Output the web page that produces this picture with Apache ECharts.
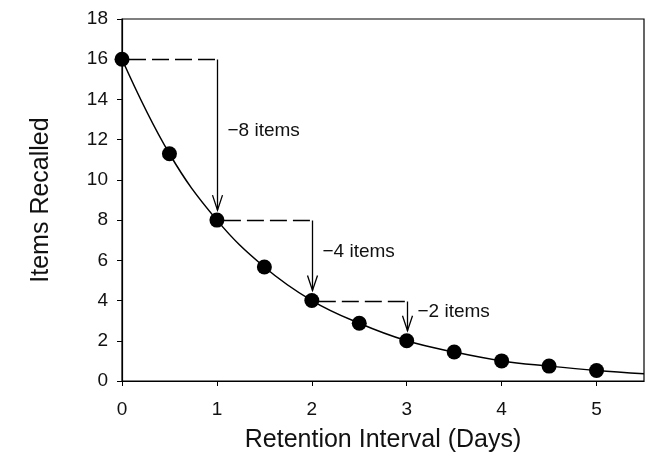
<!DOCTYPE html>
<html>
<head>
<meta charset="utf-8">
<script src="https://cdn.jsdelivr.net/npm/echarts@6/dist/echarts.min.js"></script>
<style>
  html, body { margin: 0; padding: 0; background: #fff; }
  #chart { width: 649px; height: 462px; }
</style>
</head>
<body>
<div id="chart"></div>
<script>
// Retention interval (days) and mean items recalled
const days = [0, 0.5, 1, 1.5, 2, 2.5, 3, 3.5, 4, 4.5, 5];
const recalled = [16, 11.3, 8, 5.67, 4, 2.87, 2, 1.44, 1.0, 0.74, 0.52];

// Fitted forgetting curve continues to the edge of the axis
const curveEnd = [5.5, 0.36];

// Successive halvings: [fromDay, fromItems, toDay, toItems]
const drops = [
  [0, 16, 1, 8],
  [1, 8, 2, 4],
  [2, 4, 3, 2]
];

const xTicks = [0, 1, 2, 3, 4, 5];
const yTicks = [0, 2, 4, 6, 8, 10, 12, 14, 16, 18];

const curve = days.map((d, i) => [d, recalled[i]]).concat([curveEnd]);
const points = days.map((d, i) => [d, recalled[i]]);

const FONT = 'Liberation Sans, Arial, Helvetica, sans-serif';

function renderDrop(params, api) {
  const [x0, y0, x1, y1] = [api.value(0), api.value(1), api.value(2), api.value(3)];
  const pStart = api.coord([x0, y0]);
  const pCorner = api.coord([x1, y0]);
  const pTarget = api.coord([x1, y1]);
  const tipY = pTarget[1] - 10;
  const head = 15, halfW = 5;
  const cx = Math.round(pCorner[0]) + 0.5;
  const cy = Math.round(pCorner[1]) + 0.5;
  const stroke = { stroke: '#000', lineWidth: 1.3, fill: null };
  const midY = (pCorner[1] + tipY) / 2 - 4;
  return {
    type: 'group',
    children: [
      {
        type: 'line',
        shape: { x1: pStart[0] + 7, y1: cy, x2: cx, y2: cy },
        style: Object.assign({ lineDash: [17, 6] }, stroke)
      },
      {
        type: 'line',
        shape: { x1: cx, y1: cy, x2: cx, y2: tipY },
        style: stroke
      },
      {
        type: 'polyline',
        shape: { points: [[cx - halfW, tipY - head], [cx, tipY], [cx + halfW, tipY - head]] },
        style: stroke
      },
      {
        type: 'text',
        x: cx + 10,
        y: midY,
        style: {
          text: '\u2212' + (y0 - y1) + ' items',
          fill: '#111',
          font: '19px ' + FONT,
          textAlign: 'left',
          textVerticalAlign: 'middle'
        }
      }
    ]
  };
}

const chart = echarts.init(document.getElementById('chart'), null, { renderer: 'canvas' });
chart.setOption({
  animation: false,
  backgroundColor: '#fff',
  grid: {
    left: 122, right: 5, top: 19, bottom: 81,
    outerBoundsMode: 'none',
    containLabel: false,
    show: true, borderColor: '#000', borderWidth: 1.2, backgroundColor: 'transparent'
  },
  xAxis: {
    type: 'value',
    min: 0, max: 5.5, interval: 1,
    name: 'Retention Interval (Days)',
    nameLocation: 'middle',
    nameGap: 47,
    nameTextStyle: { fontFamily: FONT, fontSize: 25, color: '#111' },
    axisLine: { show: true, lineStyle: { color: '#000', width: 1.2 } },
    axisTick: { show: true, inside: false, length: 5, lineStyle: { color: '#000' } },
    axisLabel: {
      fontFamily: FONT, fontSize: 19, color: '#111', margin: 19,
      showMaxLabel: false,
      formatter: v => (xTicks.indexOf(v) >= 0 ? String(v) : '')
    },
    splitLine: { show: false }
  },
  yAxis: {
    type: 'value',
    min: 0, max: 18, interval: 2,
    name: 'Items Recalled',
    nameLocation: 'middle',
    nameGap: 68,
    nameRotate: 90,
    nameTextStyle: { fontFamily: FONT, fontSize: 25, color: '#111' },
    axisLine: { show: true, lineStyle: { color: '#000', width: 1.2 } },
    axisTick: { show: true, inside: false, length: 5, lineStyle: { color: '#000' } },
    axisLabel: {
      fontFamily: FONT, fontSize: 19, color: '#111', margin: 14,
      formatter: v => (yTicks.indexOf(v) >= 0 ? String(v) : '')
    },
    splitLine: { show: false }
  },
  series: [
    {
      type: 'line',
      data: curve,
      smooth: 0.4,
      showSymbol: false,
      symbol: 'none',
      lineStyle: { color: '#000', width: 1.5 },
      z: 2
    },
    {
      type: 'custom',
      data: drops,
      renderItem: renderDrop,
      z: 3
    },
    {
      type: 'scatter',
      data: points,
      symbol: 'circle',
      symbolSize: 15,
      itemStyle: { color: '#000', opacity: 1 },
      z: 4
    }
  ]
});
</script>
</body>
</html>
